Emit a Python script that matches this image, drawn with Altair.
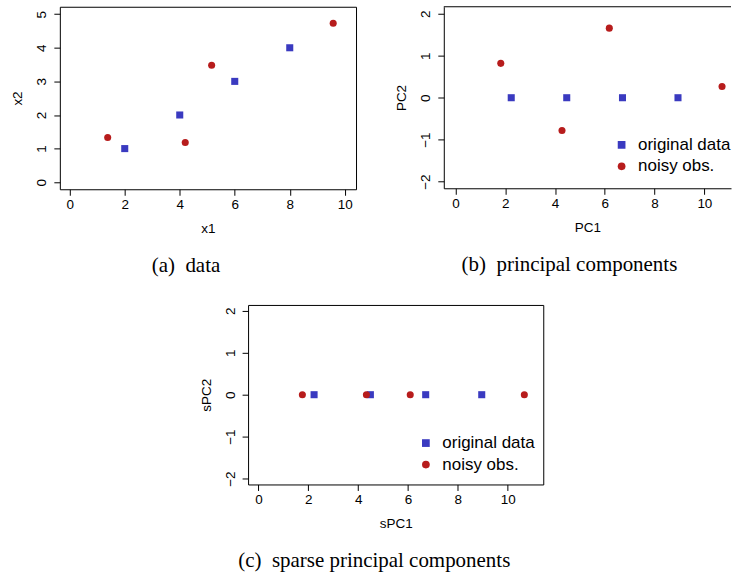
import altair as alt
import pandas as pd

series_names = ["original data", "noisy obs."]
series_colors = ["#3A3AC0", "#B71C1C"]
series_shapes = ["square", "circle"]

# (a) data
a_orig_x1 = [2, 4, 6, 8]
a_orig_x2 = [1, 2, 3, 4]
a_noisy_x1 = [1.38, 4.20, 5.16, 9.58]
a_noisy_x2 = [1.33, 1.18, 3.48, 4.73]

# (b) principal components
b_orig_pc1 = [2.24, 4.47, 6.71, 8.94]
b_orig_pc2 = [0, 0, 0, 0]
b_noisy_pc1 = [1.82, 4.28, 6.18, 10.71]
b_noisy_pc2 = [0.82, -0.78, 1.66, 0.27]

# (c) sparse principal components
c_orig_spc1 = [2.23, 4.49, 6.71, 8.96]
c_orig_spc2 = [0, 0, 0, 0]
c_noisy_spc1 = [1.76, 4.33, 6.09, 10.67]
c_noisy_spc2 = [0, 0, 0, 0]

x_ticks = [0, 2, 4, 6, 8, 10]
a_y_ticks = [0, 1, 2, 3, 4, 5]
pc_y_ticks = [-2, -1, 0, 1, 2]

captions = ["(a)\u2002data", "(b)\u2002principal components", "(c)\u2002sparse principal components"]

FONT = "Liberation Sans"
SERIF = "Liberation Serif"
FS = 13.5
LEG_FS = 17


def frame(xo, yo, xn, yn):
    rows = [{"x": a, "y": b, "series": series_names[0]} for a, b in zip(xo, yo)]
    rows += [{"x": a, "y": b, "series": series_names[1]} for a, b in zip(xn, yn)]
    return pd.DataFrame(rows)


def panel(df, xdom, ydom, w, h, yticks, xtitle, ytitle, caption, dx, legend, box=True):
    xaxis = alt.Axis(values=x_ticks, title=xtitle, grid=False, domain=not box, domainColor="black",
                     tickColor="black", tickSize=6, labelPadding=2, labelFont=FONT, labelFontSize=FS,
                     labelColor="black", labelFlush=False, labelOverlap=False,
                     titleFont=FONT, titleFontSize=FS, titleFontWeight="normal", titleColor="black",
                     titlePadding=11)
    yaxis = alt.Axis(values=yticks, title=ytitle, grid=False, domain=not box, domainColor="black",
                     tickColor="black", tickSize=6, labelPadding=8, labelFont=FONT, labelFontSize=FS,
                     labelColor="black", labelFlush=False, labelOverlap=False,
                     labelAngle=-90, labelAlign="center", labelBaseline="alphabetic",
                     titleFont=FONT, titleFontSize=FS, titleFontWeight="normal", titleColor="black",
                     titlePadding=10)
    cscale = alt.Scale(domain=series_names, range=series_colors)
    sscale = alt.Scale(domain=series_names, range=series_shapes)
    if legend:
        leg = alt.Legend(title=None, orient="none", legendX=169.8, legendY=130, padding=0,
                         labelFont=FONT, labelFontSize=LEG_FS, labelColor="black", symbolSize=60,
                         labelOffset=8, rowPadding=3.5, symbolStrokeWidth=0)
        color = alt.Color("series:N", scale=cscale, legend=leg)
        shape = alt.Shape("series:N", scale=sscale, legend=leg)
    else:
        color = alt.Color("series:N", scale=cscale, legend=None)
        shape = alt.Shape("series:N", scale=sscale, legend=None)
    pts = alt.Chart(df).mark_point(filled=True, size=50, opacity=1).encode(
        x=alt.X("x:Q", scale=alt.Scale(domain=xdom, nice=False, zero=False), axis=xaxis),
        y=alt.Y("y:Q", scale=alt.Scale(domain=ydom, nice=False, zero=False), axis=yaxis),
        color=color, shape=shape,
    )
    title = alt.TitleParams(caption, orient="bottom", anchor="middle", font=SERIF, fontSize=21,
                            fontWeight="normal", color="black", offset=20, dx=dx)
    if box:
        return pts.properties(width=w, height=h, title=title)
    top = alt.Chart(pd.DataFrame({"k": [0]})).mark_rule(color="black", strokeWidth=1).encode(
        x=alt.value(0), x2=alt.value(w), y=alt.value(0))
    return alt.layer(pts, top).properties(width=w, height=h, title=title,
                                           view=alt.ViewBackground(stroke="transparent"))


pa = panel(frame(a_orig_x1, a_orig_x2, a_noisy_x1, a_noisy_x2), [-0.36, 10.41], [-0.21, 5.22],
           297, 183, a_y_ticks, "x1", "x2", captions[0], -22, False)
pb = panel(frame(b_orig_pc1, b_orig_pc2, b_noisy_pc1, b_noisy_pc2), [-0.47, 11.07], [-2.16, 2.17],
           288, 182, pc_y_ticks, "PC1", "PC2", captions[1], -18, True, box=False)
pc = panel(frame(c_orig_spc1, c_orig_spc2, c_noisy_spc1, c_noisy_spc2), [-0.42, 11.43], [-2.14, 2.14],
           296, 180, pc_y_ticks, "sPC1", "sPC2", captions[2], -21.5, True)

top = alt.hconcat(pa, pb, spacing=37).resolve_scale(color="independent", shape="independent")
chart = alt.vconcat(top, pc, spacing=27, center=True).resolve_scale(
    color="independent", shape="independent"
).properties(
    padding={"left": 10, "top": 5, "right": 0, "bottom": 0}
).configure(background="white").configure_view(stroke="black", strokeWidth=1)

chart.save("out.html", embed_options={"renderer": "svg", "actions": False})
